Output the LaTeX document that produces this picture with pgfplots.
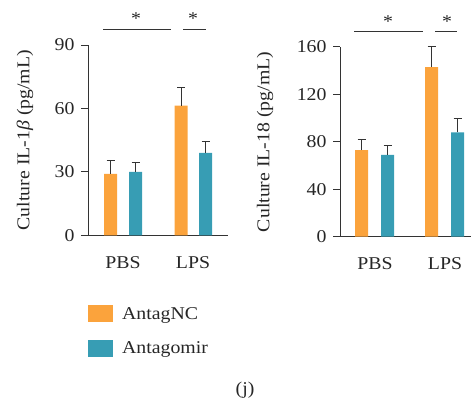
\documentclass[border=0pt]{standalone}
\usepackage{pgfplots}
\pgfplotsset{compat=1.18}
\usepackage{fontspec}
\setmainfont{Liberation Serif}[FakeStretch=1.1]
\definecolor{orng}{HTML}{FBA33C}
\definecolor{tealb}{HTML}{379DB4}
\definecolor{axgray}{HTML}{333333}
\begin{document}
\begin{tikzpicture}[x=1bp,y=1bp]
\pgfplotsset{
 myaxis/.style={
  scale only axis, clip=false,
  axis x line*=bottom, axis y line*=left,
  axis line style={draw=axgray, line width=1bp, -},
  xmin=0, ymin=0,
  xtick={35,105}, xticklabels={PBS,LPS},
  x tick style={draw=none},
  xticklabel style={anchor=base, yshift=-26bp},
  yticklabel style={xshift=-3bp},
  y tick style={draw=axgray, line width=1bp},
  tick align=outside, major tick length=7bp,
  font=\fontsize{18bp}{21bp}\selectfont,
  tick label style={text=black!85},
  /pgf/number format/assume math mode=true,
  ylabel style={anchor=center, text=black!85},
  error bars/y dir=plus, error bars/y explicit,
  error bars/error bar style={draw=axgray, line width=1bp},
  error bars/error mark options={rotate=90, mark size=4bp, line width=1bp, draw=axgray},
 },
 mybar/.style={ybar, bar width=13bp, bar shift=0pt, draw=none, fill=#1,
   legend image code/.code={\fill[fill=#1] (0bp,-8.5bp) rectangle (25bp,8.5bp);}},
}
\begin{axis}[myaxis, at={(88bp,163.7bp)}, anchor=south west,
  width=140bp, height=190.3bp, xmax=140, ymax=90, ytick={0,30,60,90},
  ylabel={Culture IL-1{\itshape β} (pg/mL)},
  ylabel style={at={(axis description cs:-0.45,0.5)}},
  legend style={at={(axis description cs:0,-0.366)}, anchor=north west,
    draw=none, fill=none, inner sep=0pt, row sep=17bp,
    nodes={inner sep=2bp, text=black!85}, font=\fontsize{18bp}{21bp}\selectfont,
    /tikz/every odd column/.append style={column sep=7bp}},
  legend cell align=left]
\addplot[mybar=orng] coordinates {(22.5,29) +- (0,6.3) (93,61.3) +- (0,8.7)};
\addplot[mybar=tealb] coordinates {(47.5,30) +- (0,4.3) (117.5,39) +- (0,5.2)};
\legend{AntagNC,Antagomir}
\draw[axgray, line width=1bp] (axis cs:15,97.4) -- (axis cs:83,97.4);
\draw[axgray, line width=1bp] (axis cs:95,97.4) -- (axis cs:118,97.4);
\node[anchor=base, text=black!85] at (axis cs:48,99.5) {*};
\node[anchor=base, text=black!85] at (axis cs:105,99.5) {*};
\end{axis}
\begin{axis}[myaxis, at={(340bp,162.3bp)}, anchor=south west,
  width=131bp, height=189.7bp, xmax=131, ymax=160, ytick={0,40,80,120,160},
  ylabel={Culture IL-18 (pg/mL)},
  ylabel style={at={(axis description cs:-0.5725,0.5)}}]
\addplot[mybar=orng] coordinates {(21.5,73) +- (0,9) (91.5,143) +- (0,17)};
\addplot[mybar=tealb] coordinates {(47.5,69) +- (0,8) (117.5,88) +- (0,12)};
\draw[axgray, line width=1bp] (axis cs:14,173.4) -- (axis cs:83,173.4);
\draw[axgray, line width=1bp] (axis cs:95,173.4) -- (axis cs:117,173.4);
\node[anchor=base, text=black!85] at (axis cs:48,176.8) {*};
\node[anchor=base, text=black!85] at (axis cs:107,176.8) {*};
\end{axis}
\node[font=\fontsize{18bp}{21bp}\selectfont, text=black!85] at (245bp,9bp) {(j)};
\pgfresetboundingbox
\path[use as bounding box] (0bp,0bp) rectangle (471bp,399bp);
\end{tikzpicture}
\end{document}
